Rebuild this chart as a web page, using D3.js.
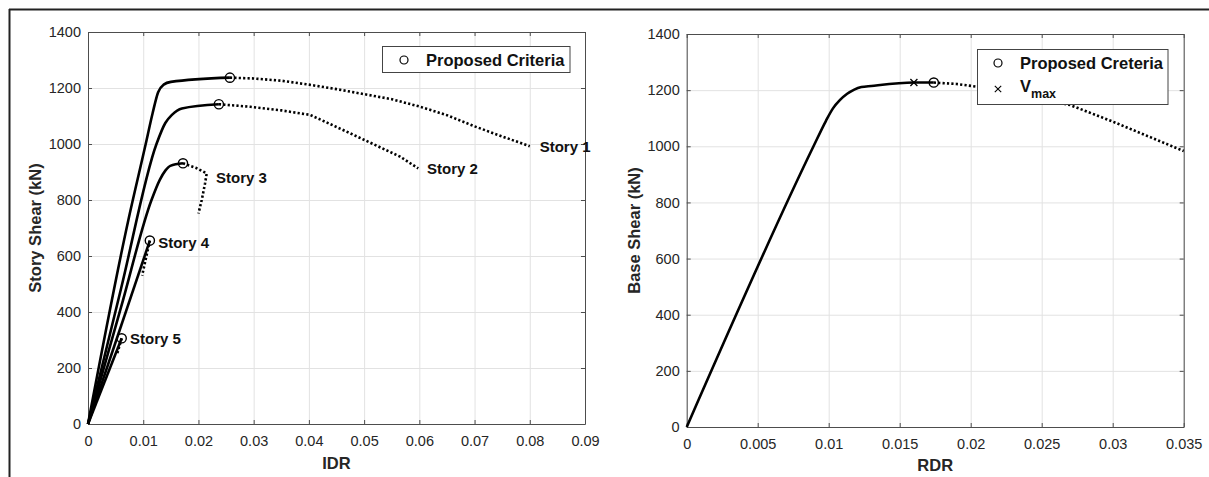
<html>
<head>
  <meta http-equiv="Content-Type" content="text/html;charset=utf-8"/>
  <script src="https://cdn.jsdelivr.net/npm/d3@7"></script>
  <style>
    body { margin: 0; background: #fff; }
    svg { display: block; font-family: "Liberation Sans", Arial, sans-serif; }
    .grid line { stroke: #e2e2e2; stroke-width: 1; }
    .grid path { display: none; }
    .ax path { stroke: #4d4d4d; }
    .ax line { stroke: #4d4d4d; }
    .ax text { fill: #262626; font-size: 14.5px; }
  </style>
</head>
<body>
<svg id="chart" width="1209" height="477"></svg>
<script>
// ---- data ----
var idrTicks = [0, 0.01, 0.02, 0.03, 0.04, 0.05, 0.06, 0.07, 0.08, 0.09];
var rdrTicks = [0, 0.005, 0.01, 0.015, 0.02, 0.025, 0.03, 0.035];
var shearTicks = [0, 200, 400, 600, 800, 1000, 1200, 1400];

var story1Solid = [[0,0],[0.0073,728],[0.01045,1000],[0.0117,1110],[0.0127,1185],[0.0137,1212],[0.0150,1222],[0.0257,1237]];
var story1Dot   = [[0.0257,1237],[0.030,1234],[0.035,1226],[0.040,1212],[0.045,1196],[0.050,1178],[0.055,1160],[0.060,1134],[0.065,1103],[0.070,1063],[0.075,1027],[0.080,992]];
var story2Solid = [[0,0],[0.0060,485],[0.0124,1000],[0.0140,1075],[0.0152,1104],[0.0170,1127],[0.0237,1142]];
var story2Dot   = [[0.0237,1142],[0.0294,1133],[0.035,1120],[0.0402,1104],[0.042,1088],[0.0475,1038],[0.0565,955],[0.0598,913]];
var story3Solid = [[0,0],[0.0060,418],[0.0115,800],[0.0130,872],[0.0140,905],[0.0149,922],[0.0172,931]];
var story3Dot   = [[0.0172,931],[0.0195,915],[0.0215,895],[0.0212,860],[0.0206,800],[0.0200,752]];
var story4Solid = [[0,0],[0.0112,655]];
var story4Dot   = [[0.0112,655],[0.0098,530]];
var story5Solid = [[0,0],[0.0061,306]];
var story5Dot   = [[0.0061,306],[0.0053,252]];

var storyCriteria = [[0.0257,1237],[0.0237,1142],[0.0172,931],[0.0112,655],[0.0061,306]];
var storyLabels = [
  {name: "Story 1", x: 0.0818, y: 990},
  {name: "Story 2", x: 0.0614, y: 911},
  {name: "Story 3", x: 0.0232, y: 880},
  {name: "Story 4", x: 0.0127, y: 648},
  {name: "Story 5", x: 0.0076, y: 304}
];

var baseSolid = [[0,0],[0.00893,1000],[0.0098,1090],[0.0103,1135],[0.0108,1165],[0.0113,1187],[0.0118,1202],[0.0123,1211],[0.0130,1215],[0.0160,1227],[0.0174,1227]];
var baseDot   = [[0.0174,1227],[0.019,1222],[0.0205,1212],[0.022,1197],[0.024,1176],[0.027,1147],[0.030,1088],[0.033,1025],[0.035,983]];
var baseCriteria = [0.0174, 1227];
var baseVmax = [0.0160, 1227];

var svg = d3.select("#chart");

// outer frame (top and left edge of the figure box)
svg.append("line").attr("x1", 9).attr("y1", 9.5).attr("x2", 1209).attr("y2", 9.5)
  .attr("stroke", "#222").attr("stroke-width", 2);
svg.append("line").attr("x1", 9.5).attr("y1", 9).attr("x2", 9.5).attr("y2", 477)
  .attr("stroke", "#222").attr("stroke-width", 2);

function drawPanel(p) {
  var x = d3.scaleLinear().domain([0, p.xTicks[p.xTicks.length - 1]]).range([p.left, p.right]);
  var y = d3.scaleLinear().domain([0, 1400]).range([p.bottom, p.top]);
  var w = p.right - p.left, h = p.bottom - p.top;

  svg.append("g").attr("class", "grid").attr("transform", "translate(0," + p.bottom + ")")
    .call(d3.axisBottom(x).tickValues(p.xTicks).tickSize(-h).tickFormat(""));
  svg.append("g").attr("class", "grid").attr("transform", "translate(" + p.left + ",0)")
    .call(d3.axisLeft(y).tickValues(shearTicks).tickSize(-w).tickFormat(""));

  svg.append("g").attr("class", "ax").attr("transform", "translate(0," + p.bottom + ")")
    .call(d3.axisBottom(x).tickValues(p.xTicks).tickSizeInner(-4).tickSizeOuter(0).tickPadding(12).tickFormat(d3.format("~g")));
  svg.append("g").attr("class", "ax").attr("transform", "translate(" + p.left + ",0)")
    .call(d3.axisLeft(y).tickValues(shearTicks).tickSizeInner(-4).tickSizeOuter(0).tickPadding(7).tickFormat(d3.format("d")));
  svg.append("g").attr("class", "ax").attr("transform", "translate(0," + p.top + ")")
    .call(d3.axisTop(x).tickValues(p.xTicks).tickSizeInner(-4).tickSizeOuter(0).tickFormat(""));
  svg.append("g").attr("class", "ax").attr("transform", "translate(" + p.right + ",0)")
    .call(d3.axisRight(y).tickValues(shearTicks).tickSizeInner(-4).tickSizeOuter(0).tickFormat(""));
  svg.selectAll(".ax text").attr("font-family", "Liberation Sans, Arial, sans-serif");

  svg.append("text").attr("x", (p.left + p.right) / 2).attr("y", p.xTitleY)
    .attr("text-anchor", "middle").attr("font-weight", "bold").attr("font-size", "16.5px")
    .attr("fill", "#262626").text(p.xTitle);
  svg.append("text").attr("transform", "translate(" + p.yTitleX + "," + ((p.top + p.bottom) / 2) + ") rotate(-90)")
    .attr("text-anchor", "middle").attr("font-weight", "bold").attr("font-size", "16.5px")
    .attr("fill", "#262626").text(p.yTitle);

  return {x: x, y: y};
}

var L = drawPanel({left: 88, right: 585, top: 32, bottom: 424, xTicks: idrTicks,
  xTitle: "IDR", yTitle: "Story Shear (kN)", xTitleY: 469, yTitleX: 41});
var R = drawPanel({left: 686.7, right: 1183.7, top: 34, bottom: 427, xTicks: rdrTicks,
  xTitle: "RDR", yTitle: "Base Shear (kN)", xTitleY: 471, yTitleX: 640});

// solid branches rise monotonically, so they get a smooth curve; dotted ones stay straight
function line(s, smooth) {
  return d3.line().curve(smooth ? d3.curveMonotoneX : d3.curveLinear)
    .x(function(d) { return s.x(d[0]); }).y(function(d) { return s.y(d[1]); });
}

// left panel curves
[story1Solid, story2Solid, story3Solid, story4Solid, story5Solid].forEach(function(d) {
  svg.append("path").attr("d", line(L, true)(d)).attr("fill", "none").attr("stroke", "#000")
    .attr("stroke-width", 2.6).attr("stroke-linejoin", "round");
});
[story1Dot, story2Dot, story3Dot, story4Dot, story5Dot].forEach(function(d) {
  svg.append("path").attr("d", line(L, false)(d)).attr("fill", "none").attr("stroke", "#000")
    .attr("stroke-width", 2.6).attr("stroke-dasharray", "2.2,2.2");
});
svg.selectAll(".critL").data(storyCriteria).enter().append("circle").attr("class", "critL")
  .attr("cx", function(d) { return L.x(d[0]); }).attr("cy", function(d) { return L.y(d[1]); })
  .attr("r", 4.6).attr("fill", "none").attr("stroke", "#000").attr("stroke-width", 1.4);
svg.selectAll(".lbl").data(storyLabels).enter().append("text").attr("class", "lbl")
  .attr("x", function(d) { return L.x(d.x); }).attr("y", function(d) { return L.y(d.y); })
  .attr("dy", "0.36em").attr("font-weight", "bold").attr("font-size", "15px").attr("fill", "#111")
  .text(function(d) { return d.name; });

// left legend
svg.append("rect").attr("x", 382.5).attr("y", 46.5).attr("width", 187.5).attr("height", 26)
  .attr("fill", "#fff").attr("stroke", "#444").attr("stroke-width", 1);
svg.append("circle").attr("cx", 404).attr("cy", 60).attr("r", 4).attr("fill", "none")
  .attr("stroke", "#000").attr("stroke-width", 1.2);
svg.append("text").attr("x", 426).attr("y", 60).attr("dy", "0.36em").attr("font-weight", "bold")
  .attr("font-size", "16.5px").attr("fill", "#111").text("Proposed Criteria");

// right panel curve
svg.append("path").attr("d", line(R, true)(baseSolid)).attr("fill", "none").attr("stroke", "#000")
  .attr("stroke-width", 2.6).attr("stroke-linejoin", "round");
svg.append("path").attr("d", line(R, false)(baseDot)).attr("fill", "none").attr("stroke", "#000")
  .attr("stroke-width", 2.6).attr("stroke-dasharray", "2.2,2.2");
svg.append("circle").attr("cx", R.x(baseCriteria[0])).attr("cy", R.y(baseCriteria[1])).attr("r", 4.6)
  .attr("fill", "none").attr("stroke", "#000").attr("stroke-width", 1.4);
svg.append("path").attr("transform", "translate(" + R.x(baseVmax[0]) + "," + R.y(baseVmax[1]) + ")")
  .attr("d", "M-3.5,-3.5L3.5,3.5M-3.5,3.5L3.5,-3.5").attr("stroke", "#000").attr("stroke-width", 1.3);

// right legend
svg.append("rect").attr("x", 977.5).attr("y", 49.5).attr("width", 190.5).attr("height", 55)
  .attr("fill", "#fff").attr("stroke", "#444").attr("stroke-width", 1);
svg.append("circle").attr("cx", 998).attr("cy", 63).attr("r", 4).attr("fill", "none")
  .attr("stroke", "#000").attr("stroke-width", 1.2);
svg.append("text").attr("x", 1020).attr("y", 63).attr("dy", "0.36em").attr("font-weight", "bold")
  .attr("font-size", "16.5px").attr("fill", "#111").text("Proposed Creteria");
svg.append("path").attr("transform", "translate(998,89)")
  .attr("d", "M-3.2,-3.2L3.2,3.2M-3.2,3.2L3.2,-3.2").attr("stroke", "#000").attr("stroke-width", 1.1);
var vt = svg.append("text").attr("x", 1020).attr("y", 92).attr("font-weight", "bold")
  .attr("font-size", "16.5px").attr("fill", "#111");
vt.append("tspan").text("V");
vt.append("tspan").attr("dy", 6).attr("font-size", "12.5px").text("max");
</script>
</body>
</html>
